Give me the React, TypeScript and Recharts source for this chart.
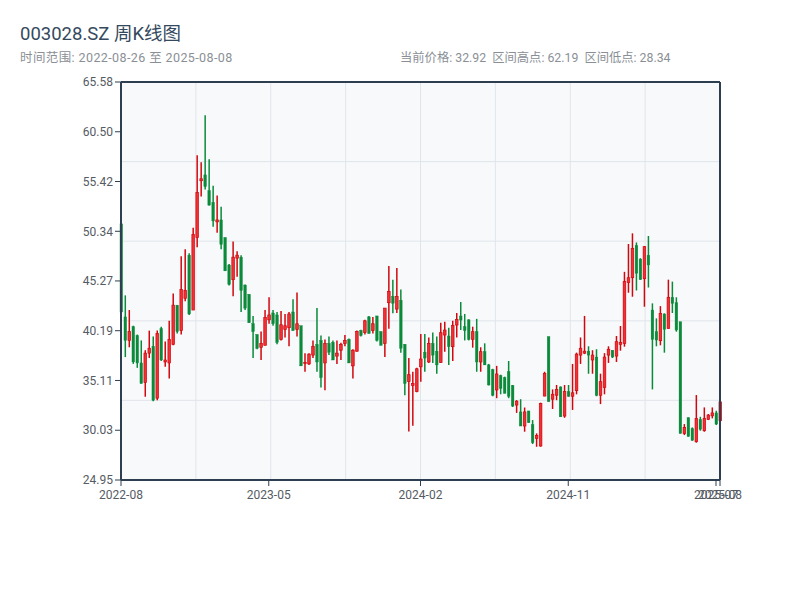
import React from 'react';
import {
  ComposedChart,
  Bar,
  XAxis,
  YAxis,
  CartesianGrid,
  ReferenceLine,
} from 'recharts';

// 周K线数据（开、高、低、收），按周顺序
const opens = [
  51.1, 41.6, 39.2, 40.6, 39.7, 36.9, 34.9, 37.9, 38.6, 33.3,
  40.4, 37.0, 36.9, 38.8, 42.8, 40.2, 43.5, 47.9, 42.3, 49.7,
  55.5, 56.1, 54.5, 53.3, 51.3, 51.5, 49.7, 46.9, 45.4, 47.6,
  47.7, 44.85, 43.9, 40.9, 39.8, 38.5, 38.7, 41.3, 42.0, 41.8,
  39.3, 40.3, 40.5, 42.1, 40.3, 40.7, 36.85, 36.8, 37.7, 38.8,
  39.2, 36.9, 38.9, 39.0, 37.6, 38.2, 38.9, 39.3, 36.6, 38.1,
  40.2, 40.0, 41.6, 40.2, 41.7, 40.1, 38.9, 43.05, 43.7, 42.4,
  43.3, 38.8, 35.0, 34.6, 33.97, 36.5, 38.0, 37.0, 38.9, 38.1,
  36.95, 39.75, 39.65, 38.56, 40.77, 41.69, 40.6, 41.3, 39.31, 40.09,
  37.0, 38.05, 36.7, 36.2, 34.14, 35.6, 35.4, 36.0, 34.6, 32.6,
  31.9, 30.46, 32.0, 30.6, 29.2, 28.42, 33.52, 39.58, 33.2, 33.6,
  34.45, 31.48, 33.97, 33.5, 34.07, 37.7, 37.9, 38.1, 37.2, 37.5,
  33.6, 34.4, 37.7, 38.2, 37.6, 38.8, 38.9, 45.1, 45.6, 48.9,
  47.5, 45.5, 47.9, 42.3, 40.1, 39.17, 41.9, 40.43, 43.6, 43.05,
  41.1, 29.71, 31.3, 30.2, 28.86, 31.14, 29.98, 31.14, 31.5, 31.8,
  31.0,
];
const highs = [
  51.2, 43.8, 42.3, 40.7, 39.8, 39.2, 38.2, 40.2, 39.6, 40.2,
  40.6, 39.1, 41.2, 44.0, 42.8, 47.8, 48.5, 48.1, 50.7, 58.1,
  57.4, 62.19, 57.7, 55.0, 54.0, 52.85, 49.7, 47.0, 49.3, 48.3,
  47.9, 44.9, 43.9, 41.7, 39.8, 40.1, 42.3, 43.6, 42.3, 42.1,
  42.2, 41.9, 42.1, 43.4, 44.1, 40.7, 37.9, 37.9, 39.2, 42.5,
  39.7, 39.3, 39.6, 39.2, 39.2, 38.97, 39.75, 39.4, 38.3, 40.2,
  40.3, 41.3, 41.7, 41.6, 41.7, 40.1, 42.5, 46.8, 45.4, 46.6,
  44.4, 38.8, 37.4, 36.0, 36.4, 39.85, 39.85, 39.5, 40.0, 39.6,
  41.0, 41.1, 40.5, 41.2, 42.0, 43.12, 41.9, 41.35, 40.6, 41.4,
  38.5, 38.9, 36.8, 36.3, 36.6, 35.7, 35.5, 37.1, 34.65, 33.1,
  33.2, 32.35, 32.0, 31.07, 29.71, 32.84, 36.0, 39.58, 34.2, 34.65,
  34.5, 34.65, 34.65, 36.8, 37.95, 39.5, 41.7, 38.6, 38.2, 38.3,
  35.8, 37.9, 38.6, 38.2, 39.65, 40.67, 46.2, 49.04, 50.13, 49.2,
  47.6, 48.84, 49.86, 42.98, 41.45, 42.7, 41.96, 45.4, 45.2, 43.6,
  41.1, 30.66, 31.34, 30.32, 33.62, 31.4, 32.36, 31.68, 32.36, 32.02,
  33.1,
];
const lows = [
  42.0, 37.5, 38.5, 36.8, 36.4, 34.8, 33.45, 37.4, 33.0, 33.1,
  37.1, 36.5, 35.3, 38.7, 39.9, 39.8, 43.2, 41.8, 42.3, 48.7,
  53.9, 54.6, 53.0, 50.8, 50.2, 48.5, 46.3, 44.8, 43.7, 45.7,
  42.1, 42.3, 41.0, 37.4, 38.3, 37.2, 38.7, 40.9, 40.7, 38.8,
  39.2, 39.5, 38.6, 40.2, 39.6, 36.6, 36.0, 36.7, 37.4, 36.0,
  34.4, 34.1, 37.7, 37.2, 36.8, 37.2, 38.6, 36.9, 35.3, 38.05,
  39.6, 39.8, 39.9, 39.9, 39.1, 38.7, 37.5, 40.4, 41.96, 42.0,
  37.95, 33.6, 29.9, 30.5, 33.9, 34.99, 36.0, 36.9, 36.9, 35.8,
  36.9, 38.05, 36.7, 37.1, 39.5, 40.26, 39.2, 39.2, 38.46, 36.0,
  36.0, 36.7, 34.6, 33.5, 33.3, 33.7, 33.8, 33.3, 32.4, 31.8,
  30.46, 29.88, 30.8, 28.62, 28.34, 28.35, 33.5, 32.95, 32.2, 33.1,
  31.4, 31.3, 33.45, 32.1, 33.7, 36.8, 37.8, 35.8, 35.8, 33.5,
  32.7, 33.7, 36.9, 37.4, 37.0, 38.15, 38.56, 44.07, 43.66, 44.3,
  45.4, 42.64, 44.6, 34.2, 38.6, 38.7, 37.95, 40.4, 42.0, 40.09,
  29.7, 29.54, 29.37, 28.96, 28.76, 29.98, 29.88, 31.07, 31.24, 30.56,
  30.9,
];
const closes = [
  42.1, 39.2, 40.1, 37.0, 36.9, 34.8, 37.9, 38.4, 33.1, 39.9,
  37.2, 37.2, 39.3, 42.8, 40.1, 44.4, 44.3, 41.9, 50.0, 54.3,
  55.7, 54.9, 53.0, 51.4, 51.5, 49.0, 46.3, 44.9, 47.7, 47.9,
  44.3, 42.5, 41.0, 40.1, 38.4, 38.9, 41.55, 41.8, 40.9, 39.0,
  40.8, 40.7, 41.9, 40.2, 40.9, 36.6, 36.95, 37.8, 38.6, 37.0,
  35.4, 38.9, 38.0, 37.2, 37.9, 38.8, 39.2, 36.9, 38.2, 40.1,
  39.7, 41.2, 39.9, 40.9, 39.2, 38.7, 42.5, 44.2, 43.0, 43.7,
  38.4, 34.8, 35.7, 34.8, 36.3, 37.3, 37.4, 38.9, 37.7, 36.7,
  39.99, 40.26, 38.56, 40.74, 41.35, 41.28, 40.2, 39.3, 40.09, 37.0,
  38.05, 36.7, 34.65, 33.6, 35.77, 34.3, 33.8, 33.5, 32.5, 33.0,
  30.46, 31.9, 30.8, 28.76, 29.5, 32.77, 35.84, 32.95, 33.7, 34.2,
  31.4, 33.97, 33.5, 33.85, 37.8, 38.4, 38.1, 37.7, 37.7, 33.6,
  34.99, 37.5, 38.3, 37.5, 39.07, 39.0, 45.2, 45.6, 48.6, 46.05,
  45.4, 48.77, 46.9, 39.3, 39.24, 41.96, 40.33, 43.6, 42.98, 40.26,
  29.7, 30.32, 29.4, 29.0, 31.24, 30.12, 31.24, 31.58, 31.8, 30.66,
  32.92,
];

// 坐标轴刻度
const yTicks = [24.95, 30.03, 35.11, 40.19, 45.27, 50.34, 55.42, 60.5, 65.58];
const xTickIdx = [0, 37, 75, 112, 149, 150];
const xTickLabels = ['2022-08', '2023-05', '2024-02', '2024-11', '2025-07', '2025-08'];

const RED = '#d1070d';
const RED_FILL = '#f03035';
const GREEN = '#0a8a3a';
const AXIS = '#2c3e50';
const FONT = 'Roboto, "Noto Sans CJK SC", sans-serif';

const data = opens.map((o, i) => ({
  i,
  o,
  h: highs[i],
  l: lows[i],
  c: closes[i],
  range: [lows[i], highs[i]],
}));

const Candle = (props: any) => {
  const { x, y, width, height, payload } = props;
  if (!payload) return null;
  const { o, c, h, l } = payload;
  const up = c >= o;
  const color = up ? RED : GREEN;
  const hh = Math.abs(height);
  const k = h === l ? 0 : hh / (h - l);
  const yOf = (v: number) => y + (h - v) * k;
  const cx = x + width / 2;
  const top = yOf(Math.max(o, c));
  const bot = yOf(Math.min(o, c));
  return (
    <g>
      <line x1={cx} x2={cx} y1={y} y2={y + hh} stroke={color} strokeWidth={1.5} />
      <rect
        x={x}
        y={top}
        width={width}
        height={Math.max(bot - top, 1)}
        fill={up ? RED_FILL : GREEN}
        stroke={color}
        strokeWidth={up ? 0.7 : 0.4}
      />
    </g>
  );
};

export default function App() {
  const lastClose = closes[closes.length - 1];
  const hi = Math.max(...highs);
  const lo = Math.min(...lows);

  return (
    <div
      style={{
        position: 'fixed',
        left: 0,
        top: 0,
        width: 800,
        height: 600,
        background: '#ffffff',
        fontFamily: FONT,
      }}
    >
      <div style={{ position: 'absolute', left: 20, top: 22, fontSize: 18.5, color: '#34495e', lineHeight: '24px' }}>
        003028.SZ 周K线图
      </div>
      <div style={{ position: 'absolute', left: 20, top: 50, fontSize: 12.5, color: '#8a8f96', lineHeight: '16px', letterSpacing: 0.4 }}>
        时间范围: 2022-08-26 至 2025-08-08
      </div>
      <div style={{ position: 'absolute', left: 400, top: 50, fontSize: 12.3, color: '#8a8f96', lineHeight: '16px', whiteSpace: 'pre' }}>
        {`当前价格: ${lastClose.toFixed(2)}  区间高点: ${hi.toFixed(2)}  区间低点: ${lo.toFixed(2)}`}
      </div>
      <div style={{ position: 'absolute', left: 0, top: 0 }}>
        <ComposedChart
          width={800}
          height={600}
          data={data}
          margin={{ top: 82, right: 60, bottom: 90, left: 61 }}
        >
          <CartesianGrid
            fill="#f7f9fb"
            stroke="#e1e5eb"
            horizontalCoordinatesGenerator={({ offset }: any) =>
              [1, 2, 3, 4].map((k) => offset.top + (offset.height * k) / 5)
            }
            verticalCoordinatesGenerator={({ offset }: any) =>
              [1, 2, 3, 4, 5, 6, 7].map((k) => offset.left + (offset.width * k) / 8)
            }
          />
          <XAxis
            dataKey="i"
            type="number"
            domain={[0, opens.length - 1]}
            ticks={xTickIdx}
            interval={0}
            tickFormatter={(v: number) => xTickLabels[xTickIdx.indexOf(v)] ?? ''}
            axisLine={{ stroke: AXIS, strokeWidth: 2 }}
            tickLine={{ stroke: AXIS }}
            tickMargin={4}
            tick={{ fill: '#555b63', fontSize: 12 }}
            height={30}
          />
          <YAxis
            domain={[yTicks[0], yTicks[yTicks.length - 1]]}
            ticks={yTicks}
            interval={0}
            tickFormatter={(v: number) => v.toFixed(2)}
            axisLine={{ stroke: AXIS, strokeWidth: 2 }}
            tickLine={{ stroke: AXIS }}
            tick={{ fill: '#555b63', fontSize: 12 }}
            width={60}
          />
          <YAxis
            yAxisId="right"
            orientation="right"
            domain={[yTicks[0], yTicks[yTicks.length - 1]]}
            ticks={yTicks}
            interval={0}
            tickFormatter={() => ''}
            axisLine={{ stroke: AXIS, strokeWidth: 2 }}
            tickLine={{ stroke: AXIS }}
            width={20}
          />
          <ReferenceLine y={yTicks[yTicks.length - 1]} stroke={AXIS} strokeWidth={2} />
          <Bar dataKey="range" barSize={2.6} shape={<Candle />} isAnimationActive={false} />
        </ComposedChart>
      </div>
    </div>
  );
}
